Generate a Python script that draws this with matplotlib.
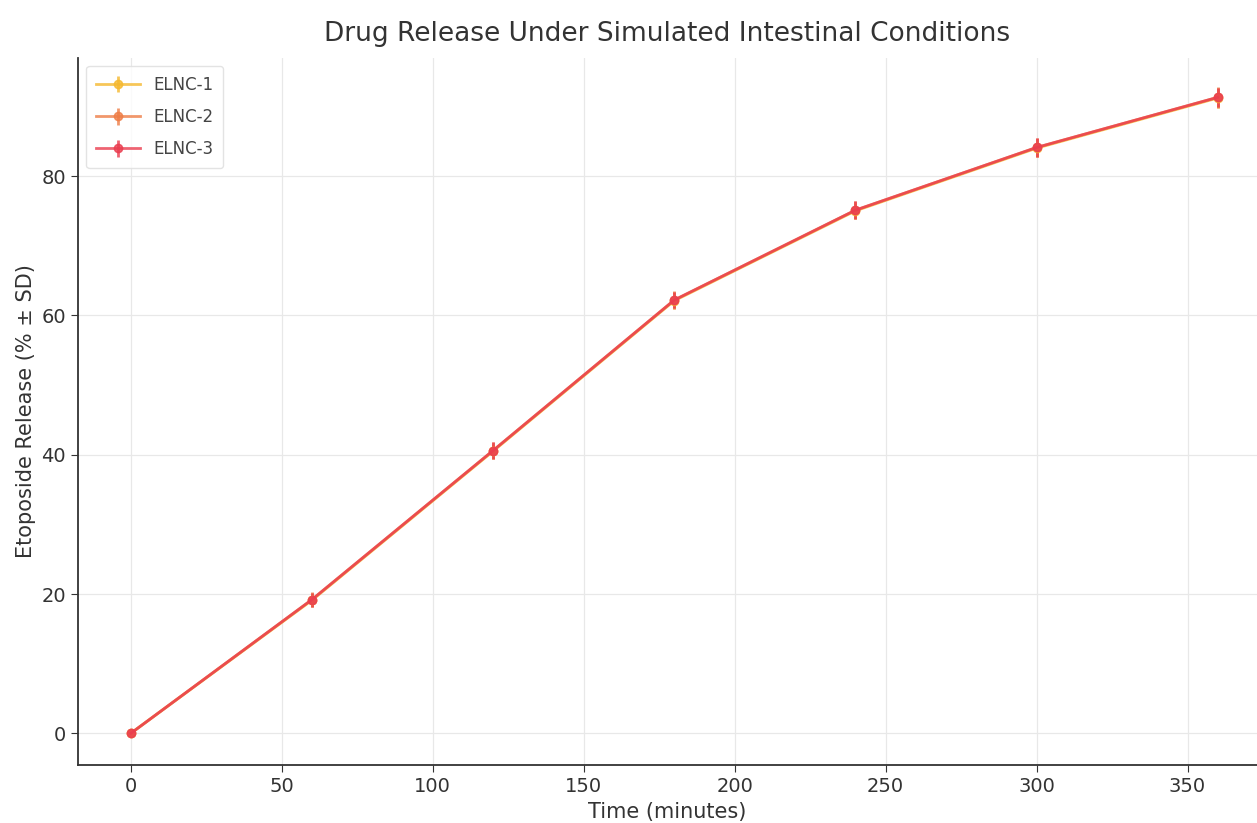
import matplotlib.pyplot as plt
import numpy as np

time_min = [0, 60, 120, 180, 240, 300, 360]
elnc1 = [0, 19.1, 40.5, 62.1, 75.0, 84.0, 91.2]
elnc2 = [0, 19.2, 40.6, 62.2, 75.1, 84.1, 91.3]
elnc3 = [0, 19.2, 40.6, 62.2, 75.1, 84.1, 91.3]
sd1 = [0, 1.0, 1.1, 1.2, 1.2, 1.3, 1.4]
sd2 = [0, 1.1, 1.2, 1.3, 1.3, 1.4, 1.5]
sd3 = [0, 1.0, 1.2, 1.2, 1.3, 1.3, 1.4]

labels = ["ELNC-1", "ELNC-2", "ELNC-3"]
colors = ["#f5b82e", "#ee7d46", "#ea3d4f"]


def main() -> None:
    fig = plt.figure(figsize=(12.57, 8.23), dpi=100)
    ax = fig.add_axes([0.062, 0.07, 0.938, 0.86])

    for y, sd, lab, c in zip([elnc1, elnc2, elnc3], [sd1, sd2, sd3], labels, colors):
        ax.errorbar(time_min, y, yerr=sd, label=lab, color=c, marker="o",
                    markersize=6, linewidth=2, elinewidth=2, capsize=0, alpha=0.8)

    ax.set_xlim(-17.5, 373)
    ax.set_ylim(-4.6, 97)
    ax.set_xticks([0, 50, 100, 150, 200, 250, 300, 350])
    ax.set_yticks([0, 20, 40, 60, 80])
    ax.grid(True, color="#e8e8e8", linewidth=0.9)
    ax.set_axisbelow(True)
    for s in ["top", "right"]:
        ax.spines[s].set_visible(False)
    for s in ["left", "bottom"]:
        ax.spines[s].set_color("#333333")
        ax.spines[s].set_linewidth(1.3)
    ax.tick_params(labelsize=14, colors="#333333", length=5)

    ax.set_xlabel("Time (minutes)", fontsize=15, color="#333333", labelpad=4)
    ax.set_ylabel("Etoposide Release (% ± SD)", fontsize=15, color="#333333")
    ax.set_title("Drug Release Under Simulated Intestinal Conditions",
                 fontsize=19, color="#333333", pad=12)
    ax.legend(loc="upper left", fontsize=12, frameon=True, edgecolor="#dddddd",
              labelcolor="#444444", labelspacing=0.85, handlelength=2.6,
              borderpad=0.6)

    fig.savefig("out.png", dpi=100)


if __name__ == "__main__":
    main()
